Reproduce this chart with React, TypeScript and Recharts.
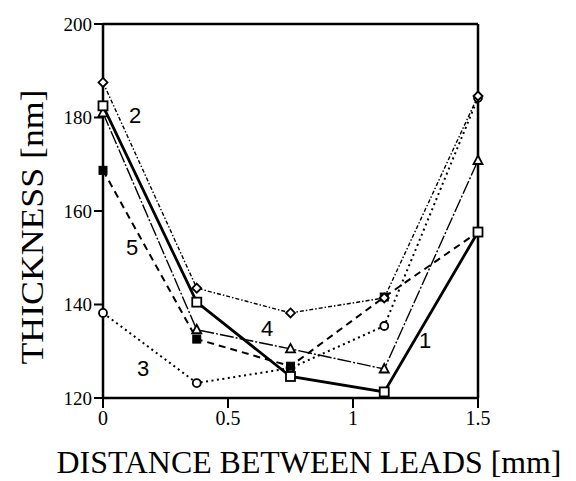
import React from 'react';
import { LineChart, Line, XAxis, YAxis, ReferenceLine, ReferenceDot, Label } from 'recharts';

const distance = [0, 0.375, 0.75, 1.125, 1.5];
const series1 = [182.5, 140.5, 124.6, 121.3, 155.5];
const series2 = [187.5, 143.5, 138.2, 141.4, 184.6];
const series3 = [138.2, 123.2, 126.4, 135.4, 184.2];
const series4 = [181.0, 134.6, 130.5, 126.2, 170.8];
const series5 = [168.7, 132.6, 126.8, 141.6, 155.5];
const xTicks = [0, 0.5, 1, 1.5];
const yTicks = [120, 140, 160, 180, 200];
const seriesLabels = [
  { text: '1', x: 1.288, y: 132.4 },
  { text: '2', x: 0.128, y: 180.6 },
  { text: '3', x: 0.16, y: 126.4 },
  { text: '4', x: 0.656, y: 135.0 },
  { text: '5', x: 0.116, y: 152.3 },
];

const data = distance.map((d, i) => ({
  d,
  s1: series1[i],
  s2: series2[i],
  s3: series3[i],
  s4: series4[i],
  s5: series5[i],
}));

const makeDot = (shape: string) => (props: any) => {
  const { cx, cy, index } = props;
  const k = `${shape}-${index}`;
  if (cx == null || cy == null) return <g key={k} />;
  if (shape === 'openSquare')
    return <rect key={k} x={cx - 4.5} y={cy - 4.5} width={9} height={9} fill="#fff" stroke="#000" strokeWidth={1.8} />;
  if (shape === 'filledSquare')
    return <rect key={k} x={cx - 4} y={cy - 4} width={8} height={8} fill="#000" stroke="#000" strokeWidth={1} />;
  if (shape === 'diamond')
    return <path key={k} d={`M${cx},${cy - 4.5}L${cx + 4.5},${cy}L${cx},${cy + 4.5}L${cx - 4.5},${cy}Z`} fill="#fff" stroke="#000" strokeWidth={1.8} />;
  if (shape === 'circle')
    return <circle key={k} cx={cx} cy={cy} r={4} fill="#fff" stroke="#000" strokeWidth={1.8} />;
  return <path key={k} d={`M${cx},${cy - 5}L${cx + 4.5},${cy + 3.5}L${cx - 4.5},${cy + 3.5}Z`} fill="#fff" stroke="#000" strokeWidth={1.8} />;
};

const serif = "'Liberation Serif', 'DejaVu Serif', serif";
const sans = "'Liberation Sans', Arial, sans-serif";

export default function App() {
  return (
    <div style={{ position: 'absolute', left: 0, top: 0, background: '#fff', fontFamily: serif }}>
      <LineChart width={576} height={481} data={data} margin={{ top: 24, right: 98, bottom: 0, left: 0 }} style={{ fontFamily: serif }}>
        <XAxis
          dataKey="d"
          type="number"
          domain={[0, 1.5]}
          ticks={xTicks}
          tickFormatter={(v: number) => String(v)}
          height={83}
          axisLine={{ stroke: '#000', strokeWidth: 2.5 }}
          tickLine={{ stroke: '#000', strokeWidth: 2 }}
          tickSize={10}
          tickMargin={3}
          tick={{ fill: '#000', fontSize: 20, style: { fontFamily: serif } }}
        >
          <Label
            content={() => (
              <text
                x={309}
                y={473}
                textAnchor="middle"
                textLength={505}
                lengthAdjust="spacingAndGlyphs"
                style={{ fontFamily: serif, fontSize: 31 }}
                fill="#000"
              >
                DISTANCE BETWEEN LEADS [mm]
              </text>
            )}
          />
        </XAxis>
        <YAxis
          type="number"
          domain={[120, 200]}
          ticks={yTicks}
          width={103}
          axisLine={{ stroke: '#000', strokeWidth: 2.5 }}
          tickLine={{ stroke: '#000', strokeWidth: 2 }}
          tickSize={9}
          tickMargin={2}
          tick={{ fill: '#000', fontSize: 19, style: { fontFamily: serif } }}
        >
          <Label
            content={() => (
              <text
                x={43}
                y={227}
                textAnchor="middle"
                textLength={275}
                lengthAdjust="spacingAndGlyphs"
                style={{ fontFamily: serif, fontSize: 31 }}
                fill="#000"
                transform="rotate(-90 43 227)"
              >
                THICKNESS [nm]
              </text>
            )}
          />
        </YAxis>
        <ReferenceLine y={200} stroke="#000" strokeWidth={2.5} />
        <ReferenceLine x={1.5} stroke="#000" strokeWidth={2.5} />
        <Line dataKey="s3" stroke="#000" strokeWidth={2} strokeDasharray="2 3.5" dot={makeDot('circle')} isAnimationActive={false} />
        <Line dataKey="s5" stroke="#000" strokeWidth={2} strokeDasharray="7 5" dot={makeDot('filledSquare')} isAnimationActive={false} />
        <Line dataKey="s4" stroke="#000" strokeWidth={1.4} strokeDasharray="14 2 2 2" dot={makeDot('triangle')} isAnimationActive={false} />
        <Line dataKey="s2" stroke="#000" strokeWidth={1.4} strokeDasharray="4 2 1.5 2" dot={makeDot('diamond')} isAnimationActive={false} />
        <Line dataKey="s1" stroke="#000" strokeWidth={2.8} dot={makeDot('openSquare')} isAnimationActive={false} />
        {seriesLabels.map((l) => (
          <ReferenceDot
            key={l.text}
            x={l.x}
            y={l.y}
            r={0}
            fill="none"
            stroke="none"
            label={{ value: l.text, position: 'center', fill: '#000', fontSize: 22, style: { fontFamily: sans } }}
          />
        ))}
      </LineChart>
    </div>
  );
}
